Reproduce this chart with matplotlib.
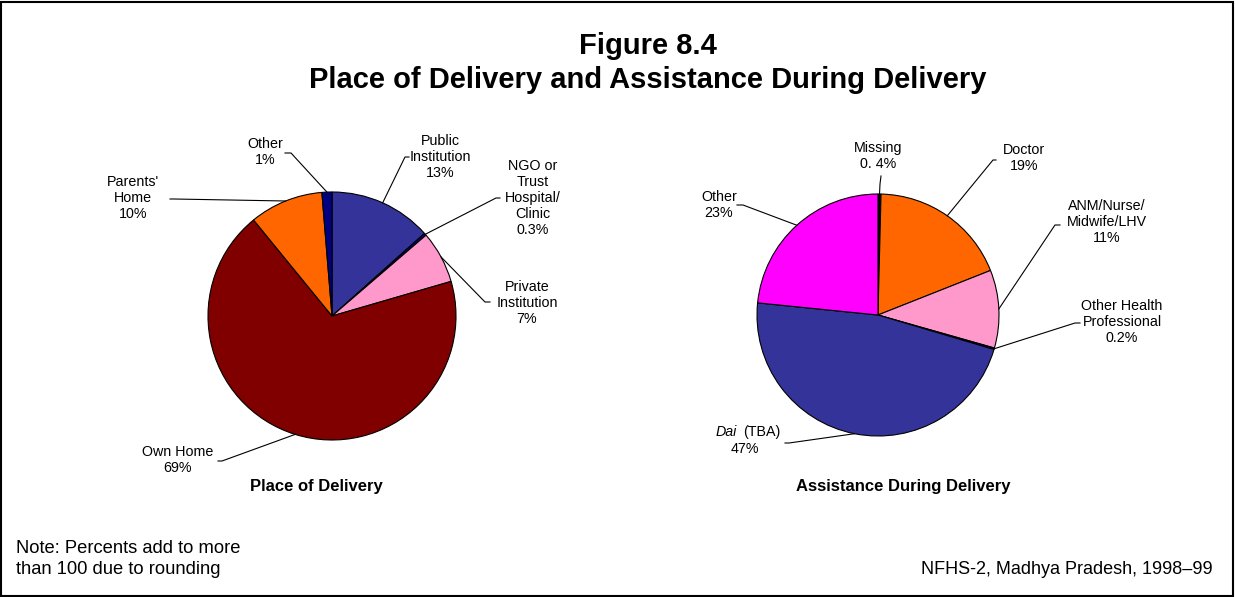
import numpy as np
import matplotlib
matplotlib.use("Agg")
import matplotlib.pyplot as plt
from matplotlib.patches import Rectangle

plt.rcParams['font.family'] = ['Liberation Sans', 'DejaVu Sans']

W, H = 1235, 597

# ------------------------------
# Data (clockwise from 12 o'clock)
# ------------------------------
place_labels = ["Public\nInstitution\n13%", "NGO or\nTrust\nHospital/\nClinic\n0.3%",
                "Private\nInstitution\n7%", "Own Home\n69%", "Parents'\nHome\n10%", "Other\n1%"]
place_values = [13.4, 0.3, 6.8, 68.6, 9.6, 1.3]
place_colors = ['#333399', '#000080', '#FF99CC', '#800000', '#FF6600', '#000080']

assist_labels = ["Missing\n0. 4%", "Doctor\n19%", "ANM/Nurse/\nMidwife/LHV\n11%",
                 "Other Health\nProfessional\n0.2%", None, "Other\n23%"]
assist_values = [0.4, 18.6, 10.4, 0.2, 47.0, 23.4]
assist_colors = ['#000000', '#FF6600', '#FF99CC', '#000080', '#333399', '#FF00FF']

# label placement in pixels (from top): text centre, stub start, elbow
place_pos = [((440, 157), (409, 157), (405, 157)),
             ((533, 198), (500, 198), (496, 198)),
             ((527, 303), (490, 302), (485, 302)),
             ((178, 460), (218, 461), (222, 461)),
             ((133, 198), (170, 199), (174, 199)),
             ((265, 152), (285, 153), (291, 153))]
assist_pos = [((878, 156), (881, 176), (880, 184)),
              ((1024, 158), (996, 160), (993, 160)),
              ((1107, 222), (1060, 225), (1055, 225)),
              ((1122, 322), (1080, 323), (1075, 323)),
              ((745, 441), (785, 443), (789, 443)),
              ((719, 205), (737, 205), (743, 205))]

LABEL_FS = 10.3

fig = plt.figure(figsize=(W / 100, H / 100), dpi=100)
ax = fig.add_axes([0, 0, 1, 1])


def draw_pie(values, colors, labels, positions, cx, cy, r):
    wedges, _ = ax.pie(values, colors=colors, startangle=90, counterclock=False,
                       center=(cx, H - cy), radius=r, normalize=True,
                       wedgeprops=dict(edgecolor='black', linewidth=0.8))
    for w, lab, (tpos, stub, elbow) in zip(wedges, labels, positions):
        mid = np.deg2rad((w.theta1 + w.theta2) / 2)
        axx = cx + r * np.cos(mid)
        axy = (H - cy) + r * np.sin(mid)
        ax.plot([stub[0], elbow[0], axx], [H - stub[1], H - elbow[1], axy],
                color='black', lw=0.8)
        if lab is not None:
            ax.text(tpos[0], H - tpos[1], lab, ha='center', va='center',
                    fontsize=LABEL_FS, linespacing=1.2)


draw_pie(place_values, place_colors, place_labels, place_pos, 332, 316, 124)
draw_pie(assist_values, assist_colors, assist_labels, assist_pos, 878, 315, 121)

# "Dai (TBA)" label with italic Dai
ax.text(737, H - 432, "Dai", ha='right', va='center', fontsize=LABEL_FS, style='italic')
ax.text(743, H - 432, "(TBA)", ha='left', va='center', fontsize=LABEL_FS)
ax.text(745, H - 449, "47%", ha='center', va='center', fontsize=LABEL_FS)

ax.set_xlim(0, W)
ax.set_ylim(0, H)
ax.set_aspect('auto')
ax.axis('off')

# titles
fig.text(648 / W, 1 - 46 / H, "Figure 8.4", ha='center', va='center',
         fontsize=21, fontweight='bold')
fig.text(648 / W, 1 - 80 / H, "Place of Delivery and Assistance During Delivery",
         ha='center', va='center', fontsize=21, fontweight='bold')
fig.text(316 / W, 1 - 486 / H, "Place of Delivery", ha='center', va='center',
         fontsize=12, fontweight='bold')
fig.text(903 / W, 1 - 487 / H, "Assistance During Delivery", ha='center', va='center',
         fontsize=12, fontweight='bold')
fig.text(16 / W, 1 - 559 / H, "Note: Percents add to more\nthan 100 due to rounding",
         ha='left', va='center', fontsize=13.2, linespacing=1.32)
fig.text(1213 / W, 1 - 570 / H, "NFHS-2, Madhya Pradesh, 1998\u201399",
         ha='right', va='center', fontsize=13)

# outer frame
fig.patches.append(Rectangle((1 / W, 1 / H), 1 - 3 / W, 1 - 3 / H, transform=fig.transFigure,
                             fill=False, edgecolor='black', linewidth=1.5))

fig.savefig("out.png", dpi=100)
